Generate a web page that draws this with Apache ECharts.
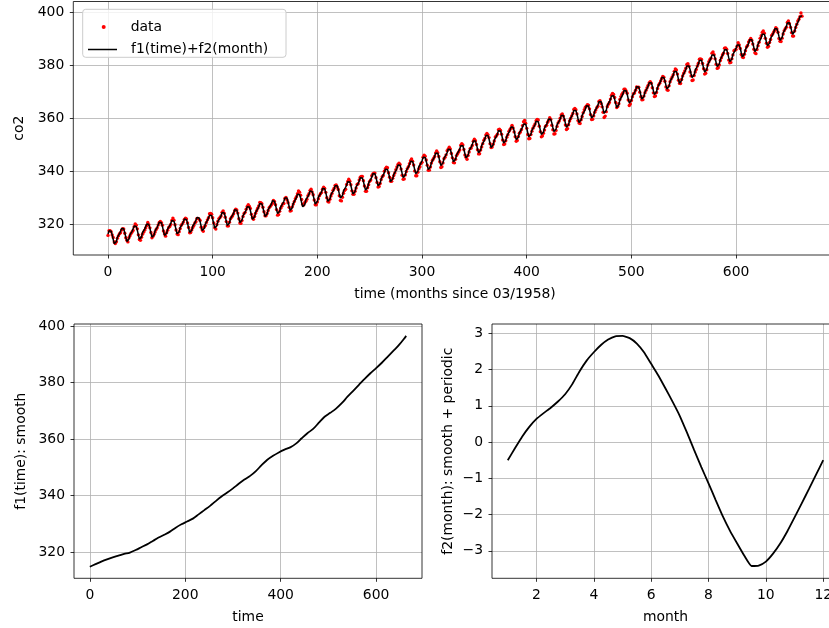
<!DOCTYPE html>
<html>
<head>
<meta charset="utf-8">
<script src="https://cdn.jsdelivr.net/npm/echarts@6/dist/echarts.min.js"></script>
<style>
html,body{margin:0;padding:0;overflow:hidden;background:#fff;}
#c{width:860px;height:628px;}
</style>
</head>
<body>
<div id="c"></div>
<script>
// ---- DATA ----
// monthly CO2 observations, time index 0 = March 1958
const firstCalendarMonth = 3;
const co2Obs = [
315.71,317.45,317.50,317.10,315.86,314.93,313.20,312.66,313.33,314.67,
315.62,316.38,316.71,317.72,318.29,318.15,316.54,314.80,313.84,313.26,314.80,315.58,
316.43,316.97,317.58,319.02,320.03,319.59,318.18,315.91,314.16,313.83,315.00,316.19,
316.93,317.70,318.54,319.48,320.58,319.77,318.57,316.79,314.80,315.38,316.10,317.01,
317.94,318.56,319.68,320.63,321.01,320.55,319.58,317.40,316.26,315.42,316.69,317.69,
318.74,319.08,319.86,321.39,322.25,321.47,319.74,317.77,316.21,315.99,317.12,318.31,
319.57,320.07,320.73,321.77,322.25,321.89,320.44,318.70,316.70,316.79,317.79,318.71,
319.44,320.44,320.89,322.13,322.16,321.87,321.39,318.81,317.81,317.30,318.87,319.42,
320.62,321.59,322.39,323.87,324.01,323.75,322.39,320.37,318.64,318.10,319.79,321.08,
322.07,322.50,323.04,324.42,325.00,324.09,322.55,320.92,319.31,319.31,320.72,321.96,
322.57,323.15,323.89,325.02,325.57,325.36,324.14,322.03,320.41,320.25,321.31,322.84,
324.00,324.42,325.64,326.66,327.34,326.76,325.88,323.67,322.38,321.78,322.85,324.11,
325.03,325.99,326.87,328.13,328.07,327.66,326.35,324.69,323.10,323.16,323.98,325.13,
326.17,326.68,327.18,327.78,328.92,328.57,327.34,325.46,323.36,323.57,324.80,326.01,
326.77,327.63,327.75,329.72,330.07,329.09,328.05,326.32,324.93,325.06,326.50,327.55,
328.54,329.56,330.30,331.50,332.48,332.07,330.87,329.31,327.51,327.18,328.16,328.64,
329.35,330.71,331.48,332.65,333.20,332.16,331.07,329.12,327.32,327.28,328.30,329.58,
330.73,331.46,331.90,333.17,333.94,333.45,331.98,329.95,328.50,328.34,329.37,330.58,
331.59,332.75,333.52,334.64,334.77,334.00,333.06,330.68,328.95,328.75,330.15,331.62,
332.66,333.13,334.95,336.13,336.93,336.17,334.88,332.56,331.29,331.27,332.41,333.60,
334.95,335.25,336.66,337.69,338.03,338.01,336.41,334.41,332.37,332.41,333.75,334.90,
336.14,336.69,338.27,338.96,339.21,339.26,337.54,335.75,333.98,334.19,335.31,336.81,
337.90,338.34,340.01,340.93,341.48,341.33,339.40,337.70,336.19,336.15,337.27,338.32,
339.29,340.55,341.61,342.53,343.03,342.54,340.78,338.44,336.95,337.08,338.58,339.88,
340.96,341.73,342.81,343.97,344.63,343.79,342.32,340.09,338.28,338.29,339.60,340.90,
341.68,342.90,343.33,345.25,346.03,345.63,344.19,342.27,340.35,340.38,341.59,343.05,
344.10,344.79,345.52,346.84,347.63,346.98,345.53,343.55,341.40,341.67,343.10,344.70,
345.21,346.16,347.74,348.34,349.06,348.38,346.72,345.02,343.27,343.13,344.49,345.88,
346.56,347.28,348.01,349.77,350.38,349.93,348.16,346.08,345.22,344.51,345.93,347.22,
348.52,348.73,349.73,351.31,352.09,351.53,350.11,348.08,346.52,346.59,347.96,349.16,
350.39,351.64,352.41,353.69,354.21,353.72,352.69,350.40,348.92,349.13,350.20,351.41,
352.91,353.27,353.96,355.64,355.86,355.37,353.99,351.81,350.05,350.25,351.49,352.85,
353.80,355.04,355.73,356.32,357.32,356.34,354.84,353.01,351.31,351.62,353.07,354.33,
354.84,355.73,357.23,358.66,359.13,358.13,356.19,353.85,352.25,352.35,353.81,355.12,
356.25,357.11,357.86,359.09,359.59,359.33,357.01,354.94,352.96,353.32,354.32,355.57,
357.00,357.31,358.47,359.27,360.19,359.52,357.33,355.64,354.03,354.12,355.41,356.91,
358.24,358.92,359.99,361.23,361.65,360.81,359.38,357.46,355.73,356.08,357.53,358.98,
359.92,360.86,361.83,363.30,363.69,363.19,361.64,359.12,358.17,357.99,359.45,360.68,
362.07,363.24,364.17,364.57,365.13,364.92,363.55,361.38,359.54,359.58,360.89,362.24,
363.09,364.03,364.51,366.35,366.64,365.59,364.31,362.25,360.29,360.82,362.49,364.38,
365.26,365.98,367.24,368.66,369.42,368.99,367.82,365.95,364.02,364.40,365.52,367.13,
368.18,369.07,369.68,370.99,370.96,370.30,369.45,366.90,364.81,365.37,366.72,368.10,
369.29,369.55,370.60,371.82,371.58,371.70,369.86,368.13,367.00,367.03,368.37,369.67,
370.59,371.51,372.43,373.37,373.85,373.21,371.51,369.61,368.18,368.45,369.76,371.24,
372.53,373.20,374.12,375.02,375.76,375.52,374.01,371.85,370.75,370.55,372.25,373.79,
374.88,375.64,376.45,377.73,378.60,378.28,376.70,374.38,373.17,373.15,374.66,375.99,
377.00,377.87,378.88,380.35,380.62,379.69,377.47,376.01,374.25,374.46,376.16,377.51,
378.46,379.73,380.77,382.29,382.45,382.21,380.74,378.74,376.70,377.00,378.35,380.11,
381.38,382.19,382.67,384.61,385.03,384.05,382.46,380.41,378.85,379.13,380.15,381.82,
382.89,383.90,384.58,386.50,386.56,386.10,384.50,381.99,380.96,381.12,382.45,383.95,
385.52,385.82,386.03,387.21,388.54,387.76,386.36,384.09,383.18,382.99,384.19,385.56,
386.94,387.48,388.82,389.55,390.14,389.48,388.03,386.11,384.74,384.43,386.02,387.42,
388.71,390.20,391.17,392.46,393.00,392.15,390.20,388.35,386.85,387.24,388.67,389.79,
391.33,391.86,392.60,393.25,394.19,393.74,392.51,390.13,389.08,389.00,390.28,391.86,
393.12,393.86,394.40,396.18,396.74,395.71,394.36,392.39,391.11,391.05,392.98,394.34,
395.55,396.80,397.43,398.41,399.78,398.61
];

// smooth trend term f1(time)
const f1Times = [0,12,24,36,48,60,72,84,96,108,120,132,144,156,168,180,192,204,216,228,240,252,264,276,288,300,312,324,336,348,360,372,384,396,408,420,432,444,456,468,480,492,504,516,528,540,552,564,576,588,600,612,624,636,648,660,663];
const f1Values = [314.9,315.8,316.7,317.5,318.2,318.8,319.4,319.9,320.8,321.8,322.8,324.0,325.2,326.2,327.3,328.7,329.9,330.9,331.9,333.4,334.9,336.4,338.1,339.7,341.1,342.6,344.2,345.7,347.0,348.7,350.8,352.7,354.1,355.3,356.3,357.1,358.4,360.3,362.1,363.6,365.8,367.9,369.3,370.8,372.7,375.0,377.1,379.2,381.3,383.3,385.1,387.0,389.1,391.2,393.3,395.8,396.5];

// periodic seasonal term f2(month)
const f2Months = [1,1.25,1.5,1.75,2,2.25,2.5,2.75,3,3.25,3.5,3.75,4,4.25,4.5,4.75,5,5.25,5.5,5.75,6,6.25,6.5,6.75,7,7.25,7.5,7.75,8,8.25,8.5,8.75,9,9.25,9.5,9.75,10,10.25,10.5,10.75,11,11.25,11.5,11.75,12];
const f2Values = [-0.50,-0.17,0.15,0.42,0.64,0.80,0.95,1.12,1.32,1.60,1.95,2.25,2.48,2.68,2.83,2.92,2.93,2.87,2.72,2.48,2.16,1.84,1.48,1.11,0.72,0.26,-0.22,-0.69,-1.14,-1.60,-2.05,-2.45,-2.80,-3.14,-3.42,-3.41,-3.30,-3.08,-2.80,-2.46,-2.08,-1.69,-1.30,-0.90,-0.50];

// tick labels
const topXTicks = [0,100,200,300,400,500,600];
const topYTicks = [320,340,360,380,400];
const f1XTicks = [0,200,400,600];
const f1YTicks = [320,340,360,380,400];
const f2XTicks = [2,4,6,8,10,12];
const f2YTicks = [-3,-2,-1,0,1,2,3];

// ---- BUILD ----
const FONT = 'DejaVu Sans';
const FS = 13.9;

const dataPoints = co2Obs.map((v, t) => [t, v]);
const f1Line = f1Times.map((t, i) => [t, f1Values[i]]);
const f2Line = f2Months.map((m, i) => [m, f2Values[i]]);

const f2ByMonth = {};
f2Months.forEach((m, i) => { if (Number.isInteger(m)) f2ByMonth[m] = f2Values[i]; });
function f1At(t) {
  for (let i = 0; i < f1Times.length - 1; i++) {
    if (t >= f1Times[i] && t <= f1Times[i + 1]) {
      const a = (t - f1Times[i]) / (f1Times[i + 1] - f1Times[i]);
      return f1Values[i] + a * (f1Values[i + 1] - f1Values[i]);
    }
  }
  return f1Values[f1Values.length - 1];
}
const fitLine = co2Obs.map((_, t) => {
  const month = ((t + firstCalendarMonth - 1) % 12) + 1;
  return [t, f1At(t) + f2ByMonth[month]];
});

const fmt = v => (v < 0 ? '\u2212' + (-v) : String(v));

function xAx(grid, min, max, ticks, step, name) {
  return {
    gridIndex: grid, type: 'value', min: min, max: max,
    minInterval: step, maxInterval: step,
    name: name, nameLocation: 'middle', nameGap: 32,
    nameTextStyle: { fontFamily: FONT, fontSize: FS, color: '#000' },
    axisLine: { show: false, onZero: false },
    axisTick: { show: true, customValues: ticks, length: 3.5, inside: false, lineStyle: { color: '#000', width: 0.8 } },
    axisLabel: { customValues: ticks, margin: 10, fontFamily: FONT, fontSize: FS, color: '#000', formatter: fmt },
    splitLine: { show: true, lineStyle: { color: '#b0b0b0', width: 0.8 } }
  };
}
function yAx(grid, min, max, ticks, step, name, gap) {
  return {
    gridIndex: grid, type: 'value', min: min, max: max,
    minInterval: step, maxInterval: step,
    name: name, nameLocation: 'middle', nameGap: gap, nameRotate: 90,
    nameTextStyle: { fontFamily: FONT, fontSize: FS, color: '#000' },
    axisLine: { show: false, onZero: false },
    axisTick: { show: true, customValues: ticks, length: 3.5, inside: false, lineStyle: { color: '#000', width: 0.8 } },
    axisLabel: { customValues: ticks, margin: 9, fontFamily: FONT, fontSize: FS, color: '#000', formatter: fmt },
    splitLine: { show: true, lineStyle: { color: '#b0b0b0', width: 0.8 } }
  };
}

const gridStyle = { show: true, z: 3, borderColor: '#000', borderWidth: 0.8, backgroundColor: 'transparent' };

const option = {
  animation: false,
  backgroundColor: '#fff',
  grid: [
    Object.assign({ left: 73.3, top: 1.5, width: 763.4, height: 253.5 }, gridStyle),
    Object.assign({ left: 74, top: 324, width: 348, height: 254.3 }, gridStyle),
    Object.assign({ left: 492, top: 324, width: 347, height: 254.3 }, gridStyle)
  ],
  xAxis: [
    xAx(0, -33.15, 696.15, topXTicks, 100, 'time (months since 03/1958)'),
    xAx(1, -33.15, 696.15, f1XTicks, 200, 'time'),
    xAx(2, 0.45, 12.55, f2XTicks, 2, 'month')
  ],
  yAxis: [
    yAx(0, 308.3, 404.14, topYTicks, 20, 'co2', 42),
    yAx(1, 310.8, 400.7, f1YTicks, 20, 'f1(time): smooth', 46),
    yAx(2, -3.76, 3.26, f2YTicks, 1, 'f2(month): smooth + periodic', 37)
  ],
  legend: [
    {
      data: [{ name: 'data', icon: 'circle' }],
      left: 101.7, top: 20, itemWidth: 4, itemHeight: 4, padding: 0,
      selectedMode: false, z: 6,
      formatter: '{a|{name}}',
      textStyle: { fontFamily: FONT, fontSize: FS, color: '#000',
        rich: { a: { fontFamily: FONT, fontSize: FS, color: '#000', padding: [0, 0, 0, 20] } } }
    },
    {
      data: [{ name: 'f1(time)+f2(month)', icon: 'rect' }],
      left: 88, top: 42.5, itemWidth: 29, itemHeight: 1.5, padding: 0,
      selectedMode: false, z: 6,
      formatter: '{a|{name}}',
      textStyle: { fontFamily: FONT, fontSize: FS, color: '#000',
        rich: { a: { fontFamily: FONT, fontSize: FS, color: '#000', padding: [0, 0, 0, 9] } } }
    }
  ],
  graphic: [{
    type: 'rect', z: 5,
    shape: { x: 82.7, y: 9.3, width: 203.3, height: 48, r: 3 },
    style: { fill: 'rgba(255,255,255,0.8)', stroke: '#cccccc', lineWidth: 1 }
  }],
  series: [
    {
      name: 'data', type: 'scatter', xAxisIndex: 0, yAxisIndex: 0,
      data: dataPoints, symbol: 'circle', symbolSize: 3.4,
      itemStyle: { color: '#ff0000', opacity: 1 }, z: 1, silent: true
    },
    {
      name: 'f1(time)+f2(month)', type: 'line', xAxisIndex: 0, yAxisIndex: 0,
      data: fitLine, showSymbol: false, symbol: 'none',
      itemStyle: { color: '#000000' }, lineStyle: { color: '#000000', width: 1.5 }, z: 2, silent: true
    },
    {
      name: 'f1', type: 'line', xAxisIndex: 1, yAxisIndex: 1,
      data: f1Line, showSymbol: false, symbol: 'none', smooth: 0.3,
      lineStyle: { color: '#000000', width: 1.8 }, z: 2, silent: true
    },
    {
      name: 'f2', type: 'line', xAxisIndex: 2, yAxisIndex: 2,
      data: f2Line, showSymbol: false, symbol: 'none', smooth: 0.15,
      lineStyle: { color: '#000000', width: 1.8 }, z: 2, silent: true
    }
  ]
};

const chart = echarts.init(document.getElementById('c'), null, { renderer: 'canvas' });
chart.setOption(option);
</script>
</body>
</html>
